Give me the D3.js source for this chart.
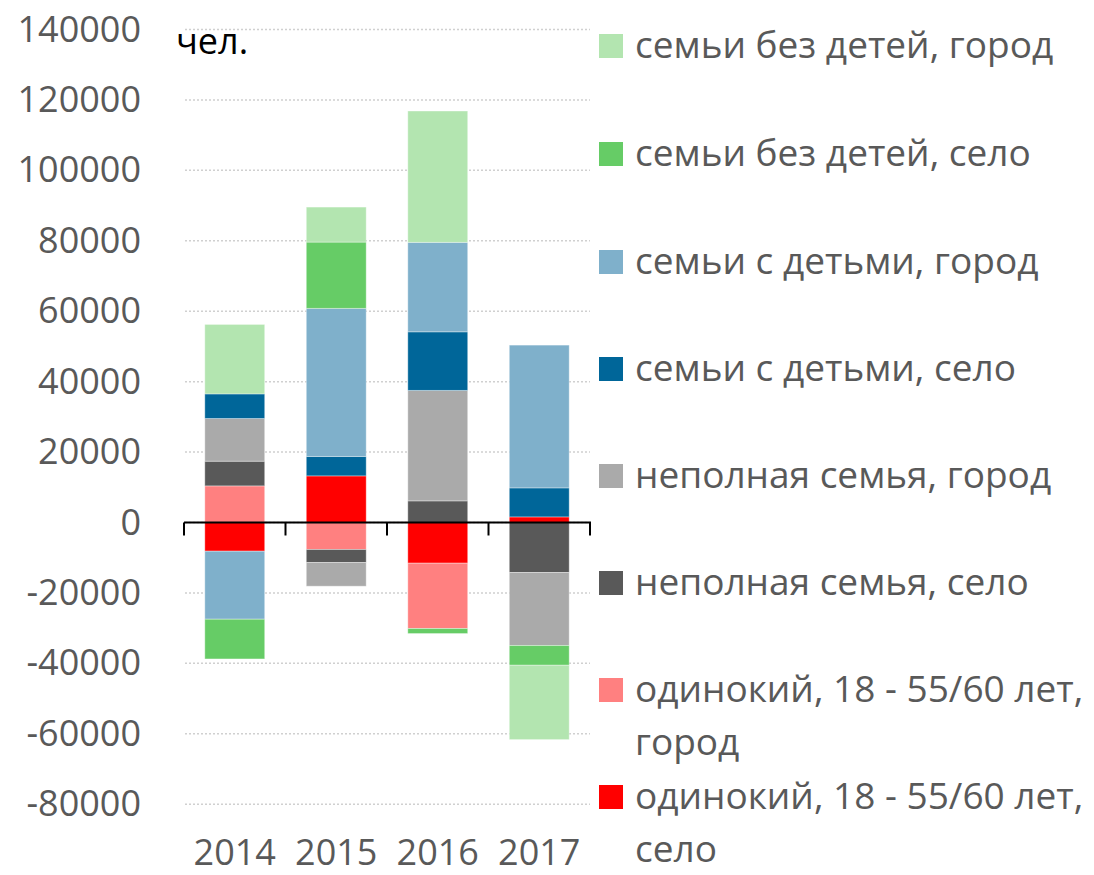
<!DOCTYPE html>
<html>
<head>
<meta charset="utf-8">
<script src="https://cdn.jsdelivr.net/npm/d3@7"></script>
<style>
  body { margin: 0; background: #fff; }
  text { font-family: "Open Sans", sans-serif; }
</style>
</head>
<body>
<script>
// data (people)
var years = ["2014", "2015", "2016", "2017"];
var seriesNames = [
  "одинокий, 18 - 55/60 лет, село",
  "одинокий, 18 - 55/60 лет, город",
  "неполная семья, село",
  "неполная семья, город",
  "семьи с детьми, село",
  "семьи с детьми, город",
  "семьи без детей, село",
  "семьи без детей, город"
];
var seriesColors = ["#ff0000", "#ff8080", "#595959", "#aaaaaa", "#006699", "#7fb0cb", "#66cc66", "#b3e5b0"];
var singleVillage = [-8150, 13240, -11560, 1590];
var singleCity    = [10400, -7670, -18550, 0];
var partialVillage = [7000, -3690, 6140, -14200];
var partialCity    = [12130, -6740, 31360, -20740];
var kidsVillage = [6990, 5510, 16650, 8240];
var kidsCity    = [-19320, 42050, 25400, 40540];
var noKidsVillage = [-11280, 18830, -1420, -5600];
var noKidsCity    = [19720, 9940, 37300, -21110];
var yTicks = [140000, 120000, 100000, 80000, 60000, 40000, 20000, 0, -20000, -40000, -60000, -80000];

var allSeries = [singleVillage, singleCity, partialVillage, partialCity, kidsVillage, kidsCity, noKidsVillage, noKidsCity];

var rows = years.map(function(y, i) {
  var r = { year: y };
  seriesNames.forEach(function(s, j) { r[s] = allSeries[j][i]; });
  return r;
});

var width = 1094, height = 875;

var svg = d3.select("body").append("svg")
  .attr("width", width)
  .attr("height", height);

var x = d3.scaleBand()
  .domain(years)
  .range([184, 590])
  .paddingInner(0.41)
  .paddingOuter(0.205);

var y = d3.scaleLinear()
  .domain([-80000, 140000])
  .range([804.2, 29.5]);

// gridlines
svg.append("g")
  .selectAll("line")
  .data(yTicks)
  .enter().append("line")
  .attr("x1", 185).attr("x2", 590)
  .attr("y1", function(d) { return y(d); })
  .attr("y2", function(d) { return y(d); })
  .attr("stroke", "#d0d0d0")
  .attr("stroke-width", 1.5)
  .attr("stroke-dasharray", "2,2");

// y axis labels
var yAxis = d3.axisLeft(y).tickValues(yTicks).tickSize(0).tickPadding(0)
  .tickFormat(function(d) { return String(d); });
var gy = svg.append("g").attr("transform", "translate(141,0)").call(yAxis);
gy.select(".domain").remove();
gy.selectAll("text")
  .attr("fill", "#595959")
  .style("font-family", "'Open Sans', sans-serif")
  .style("font-size", "36px");

// stacked bars
var stack = d3.stack().keys(seriesNames).offset(d3.stackOffsetDiverging);
var layers = stack(rows);

svg.append("g")
  .selectAll("g")
  .data(layers)
  .enter().append("g")
  .attr("fill", function(d, i) { return seriesColors[i]; })
  .selectAll("rect")
  .data(function(d) { return d; })
  .enter().append("rect")
  .attr("x", function(d) { return x(d.data.year); })
  .attr("width", x.bandwidth())
  .attr("y", function(d) { return y(Math.max(d[0], d[1])); })
  .attr("height", function(d) { return Math.abs(y(d[0]) - y(d[1])); })
  .attr("stroke", "rgba(255,255,255,0.35)")
  .attr("stroke-width", 1);

// zero axis with category ticks
var gx = svg.append("g").attr("transform", "translate(0," + y(0) + ")");
gx.append("line")
  .attr("x1", 184).attr("x2", 591)
  .attr("stroke", "#000").attr("stroke-width", 2);
var bounds = [184].concat(years.map(function(d) { return x(d) + x.bandwidth() + x.step() * 0.205; }));
gx.selectAll(".sep")
  .data(bounds)
  .enter().append("line")
  .attr("class", "sep")
  .attr("x1", function(d) { return d; })
  .attr("x2", function(d) { return d; })
  .attr("y1", 0).attr("y2", 13)
  .attr("stroke", "#000").attr("stroke-width", 2);

// year labels
svg.append("g")
  .selectAll("text")
  .data(years)
  .enter().append("text")
  .attr("x", function(d) { return x(d) + x.bandwidth() / 2; })
  .attr("y", 865)
  .attr("text-anchor", "middle")
  .attr("fill", "#595959")
  .style("font-size", "36px")
  .text(function(d) { return d; });

// unit label
svg.append("text")
  .attr("x", 176).attr("y", 54)
  .attr("fill", "#000")
  .style("font-size", "36px")
  .text("чел.");

// legend (reverse order, like Excel)
var legendItems = [
  { i: 7, lines: ["семьи без детей, город"], y: 46 },
  { i: 6, lines: ["семьи без детей, село"], y: 154 },
  { i: 5, lines: ["семьи с детьми, город"], y: 262 },
  { i: 4, lines: ["семьи с детьми, село"], y: 369 },
  { i: 3, lines: ["неполная семья, город"], y: 476 },
  { i: 2, lines: ["неполная семья, село"], y: 583 },
  { i: 1, lines: ["одинокий, 18 - 55/60 лет,", "город"], y: 690 },
  { i: 0, lines: ["одинокий, 18 - 55/60 лет,", "село"], y: 797 }
];

var lg = svg.append("g").selectAll("g")
  .data(legendItems)
  .enter().append("g");

lg.append("rect")
  .attr("x", 599)
  .attr("y", function(d) { return d.y - 12; })
  .attr("width", 24).attr("height", 24)
  .attr("fill", function(d) { return seriesColors[d.i]; });

lg.each(function(d) {
  var t = d3.select(this).append("text")
    .attr("x", 635)
    .attr("y", d.y + 12)
    .attr("fill", "#595959")
    .style("font-size", "37px");
  d.lines.forEach(function(l, k) {
    t.append("tspan").attr("x", 635).attr("dy", k === 0 ? 0 : 53).text(l);
  });
});
</script>
</body>
</html>
